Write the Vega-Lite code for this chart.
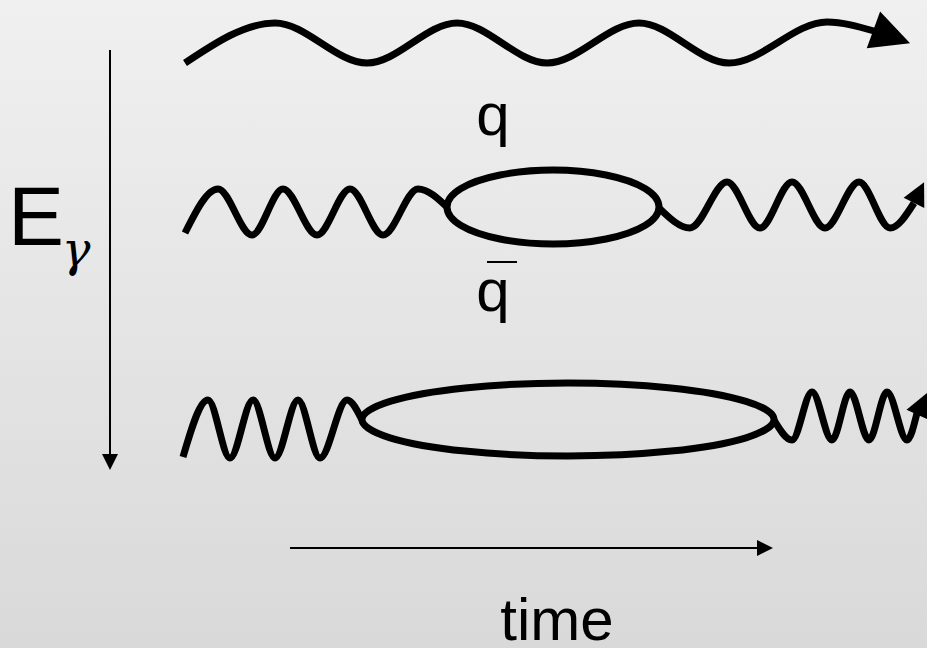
{
  "$schema": "https://vega.github.io/schema/vega-lite/v6.json",
  "width": 927,
  "height": 648,
  "autosize": {"type": "none"},
  "padding": 0,
  "background": "#e6e6e6",
  "config": {"view": {"stroke": null}, "axis": {"disable": true}},
  "datasets": {
    "waves": [
      {"seg": "top", "x": 185, "y": 63},
      {"seg": "top", "x": 275, "y": 23},
      {"seg": "top", "x": 367, "y": 63},
      {"seg": "top", "x": 457, "y": 23},
      {"seg": "top", "x": 547, "y": 63},
      {"seg": "top", "x": 639, "y": 23},
      {"seg": "top", "x": 729, "y": 63},
      {"seg": "top", "x": 827, "y": 22},
      {"seg": "top", "x": 874, "y": 31},
      {"seg": "midL", "x": 185, "y": 233},
      {"seg": "midL", "x": 218, "y": 189},
      {"seg": "midL", "x": 252, "y": 235},
      {"seg": "midL", "x": 283, "y": 189},
      {"seg": "midL", "x": 317, "y": 235},
      {"seg": "midL", "x": 350, "y": 189},
      {"seg": "midL", "x": 383, "y": 235},
      {"seg": "midL", "x": 418, "y": 189},
      {"seg": "midL", "x": 448, "y": 208},
      {"seg": "midR", "x": 659, "y": 208},
      {"seg": "midR", "x": 690, "y": 228},
      {"seg": "midR", "x": 727, "y": 182},
      {"seg": "midR", "x": 760, "y": 228},
      {"seg": "midR", "x": 792, "y": 182},
      {"seg": "midR", "x": 825, "y": 228},
      {"seg": "midR", "x": 859, "y": 182},
      {"seg": "midR", "x": 890, "y": 228},
      {"seg": "midR", "x": 914, "y": 203},
      {"seg": "botL", "x": 183, "y": 457},
      {"seg": "botL", "x": 208, "y": 400},
      {"seg": "botL", "x": 230, "y": 458},
      {"seg": "botL", "x": 253, "y": 400},
      {"seg": "botL", "x": 275, "y": 458},
      {"seg": "botL", "x": 298, "y": 400},
      {"seg": "botL", "x": 320, "y": 458},
      {"seg": "botL", "x": 347, "y": 400},
      {"seg": "botL", "x": 362, "y": 420},
      {"seg": "botR", "x": 774, "y": 420},
      {"seg": "botR", "x": 792, "y": 440},
      {"seg": "botR", "x": 812, "y": 392},
      {"seg": "botR", "x": 832, "y": 440},
      {"seg": "botR", "x": 850, "y": 392},
      {"seg": "botR", "x": 869, "y": 440},
      {"seg": "botR", "x": 887, "y": 392},
      {"seg": "botR", "x": 907, "y": 440},
      {"seg": "botR", "x": 917, "y": 413}
    ],
    "loops": [
      {"seg": "mid", "i": 0, "x": 659, "y": 207},
      {"seg": "mid", "i": 1, "x": 645, "y": 225.5},
      {"seg": "mid", "i": 2, "x": 606, "y": 239},
      {"seg": "mid", "i": 3, "x": 553, "y": 244},
      {"seg": "mid", "i": 4, "x": 500, "y": 239},
      {"seg": "mid", "i": 5, "x": 461, "y": 225.5},
      {"seg": "mid", "i": 6, "x": 447, "y": 207},
      {"seg": "mid", "i": 7, "x": 461, "y": 188.5},
      {"seg": "mid", "i": 8, "x": 500, "y": 175},
      {"seg": "mid", "i": 9, "x": 553, "y": 170},
      {"seg": "mid", "i": 10, "x": 606, "y": 175},
      {"seg": "mid", "i": 11, "x": 645, "y": 188.5},
      {"seg": "bot", "i": 0, "x": 774, "y": 419.5},
      {"seg": "bot", "i": 1, "x": 746, "y": 437.8},
      {"seg": "bot", "i": 2, "x": 671, "y": 451.1},
      {"seg": "bot", "i": 3, "x": 568, "y": 456},
      {"seg": "bot", "i": 4, "x": 465, "y": 451.1},
      {"seg": "bot", "i": 5, "x": 390, "y": 437.8},
      {"seg": "bot", "i": 6, "x": 362, "y": 419.5},
      {"seg": "bot", "i": 7, "x": 390, "y": 401.3},
      {"seg": "bot", "i": 8, "x": 465, "y": 387.9},
      {"seg": "bot", "i": 9, "x": 568, "y": 383},
      {"seg": "bot", "i": 10, "x": 671, "y": 387.9},
      {"seg": "bot", "i": 11, "x": 746, "y": 401.3}
    ],
    "arrows": [
      {"name": "energy", "x": 110, "y": 50, "x2": 110, "y2": 462},
      {"name": "time", "x": 290, "y": 548, "x2": 762, "y2": 548},
      {"name": "bar", "x": 487, "y": 262, "x2": 517, "y2": 262}
    ]
  },
  "layer": [
    {
      "data": {"values": [{}]},
      "mark": {
        "type": "rect",
        "color": {
          "gradient": "linear", "x1": 0, "y1": 0, "x2": 0, "y2": 1,
          "stops": [{"offset": 0, "color": "#f0f0f0"}, {"offset": 1, "color": "#d9d9d9"}]
        }
      }
    },
    {
      "data": {"name": "waves"},
      "mark": {"type": "line", "interpolate": "monotone", "color": "black", "strokeWidth": 7},
      "encoding": {
        "x": {"field": "x", "type": "quantitative", "scale": {"domain": [0, 927], "nice": false, "zero": false}},
        "y": {"field": "y", "type": "quantitative", "scale": {"domain": [0, 648], "nice": false, "zero": false, "reverse": true}},
        "detail": {"field": "seg"}
      }
    },
    {
      "data": {"name": "loops"},
      "mark": {"type": "line", "interpolate": "cardinal-closed", "color": "black", "strokeWidth": 7},
      "encoding": {
        "x": {"field": "x", "type": "quantitative"},
        "y": {"field": "y", "type": "quantitative"},
        "detail": {"field": "seg"},
        "order": {"field": "i", "type": "quantitative"}
      }
    },
    {
      "data": {"name": "arrows"},
      "mark": {"type": "rule", "color": "black", "strokeWidth": 2},
      "encoding": {
        "x": {"field": "x", "type": "quantitative"},
        "y": {"field": "y", "type": "quantitative"},
        "x2": {"field": "x2"},
        "y2": {"field": "y2"}
      }
    },
    {
      "data": {"values": [{"x": 891.75, "y": 36.5}]},
      "mark": {"type": "point", "shape": "M-1,-1L1,0L-1,1Z", "filled": true, "color": "black", "opacity": 1, "size": 1521, "angle": 20},
      "encoding": {"x": {"field": "x", "type": "quantitative"}, "y": {"field": "y", "type": "quantitative"}}
    },
    {
      "data": {"values": [{"x": 919, "y": 192.5}]},
      "mark": {"type": "point", "shape": "M-1,-1L1,0L-1,1Z", "filled": true, "color": "black", "opacity": 1, "size": 529, "angle": -64},
      "encoding": {"x": {"field": "x", "type": "quantitative"}, "y": {"field": "y", "type": "quantitative"}}
    },
    {
      "data": {"values": [{"x": 923, "y": 403.5}]},
      "mark": {"type": "point", "shape": "M-1,-1L1,0L-1,1Z", "filled": true, "color": "black", "opacity": 1, "size": 625, "angle": -66},
      "encoding": {"x": {"field": "x", "type": "quantitative"}, "y": {"field": "y", "type": "quantitative"}}
    },
    {
      "data": {"values": [{"x": 765, "y": 548}]},
      "mark": {"type": "point", "shape": "M-1,-1L1,0L-1,1Z", "filled": true, "color": "black", "opacity": 1, "size": 256, "angle": 0},
      "encoding": {"x": {"field": "x", "type": "quantitative"}, "y": {"field": "y", "type": "quantitative"}}
    },
    {
      "data": {"values": [{"x": 110, "y": 462}]},
      "mark": {"type": "point", "shape": "M-1,-1L1,0L-1,1Z", "filled": true, "color": "black", "opacity": 1, "size": 256, "angle": 90},
      "encoding": {"x": {"field": "x", "type": "quantitative"}, "y": {"field": "y", "type": "quantitative"}}
    },
    {
      "data": {"values": [{"label": "q", "x": 493, "y": 135}, {"label": "q", "x": 493, "y": 311}, {"label": "time", "x": 557, "y": 640}]},
      "mark": {"type": "text", "font": "Liberation Sans", "fontSize": 60, "align": "center", "baseline": "alphabetic", "color": "black"},
      "encoding": {"x": {"field": "x", "type": "quantitative"}, "y": {"field": "y", "type": "quantitative"}, "text": {"field": "label"}}
    },
    {
      "data": {"values": [{"label": "E", "x": 8, "y": 245}]},
      "mark": {"type": "text", "font": "Liberation Sans", "fontSize": 84, "align": "left", "baseline": "alphabetic", "color": "black"},
      "encoding": {"x": {"field": "x", "type": "quantitative"}, "y": {"field": "y", "type": "quantitative"}, "text": {"field": "label"}}
    },
    {
      "data": {"values": [{"label": "γ", "x": 76, "y": 266}]},
      "mark": {"type": "text", "font": "DejaVu Serif", "fontStyle": "italic", "fontSize": 48, "align": "center", "baseline": "alphabetic", "color": "black"},
      "encoding": {"x": {"field": "x", "type": "quantitative"}, "y": {"field": "y", "type": "quantitative"}, "text": {"field": "label"}}
    }
  ]
}
